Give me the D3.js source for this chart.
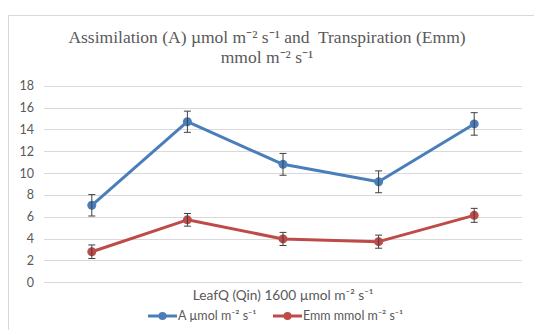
<!DOCTYPE html>
<html>
<head>
<meta charset="utf-8">
<script src="https://cdn.jsdelivr.net/npm/d3@7"></script>
<style>
  body { margin: 0; background: #fff; }
  svg { display: block; }
</style>
</head>
<body>
<svg id="chart" width="534" height="330"></svg>
<script>
// chart data
var categories = ["1", "2", "3", "4", "5"];
var assimilation = [7.05, 14.7, 10.8, 9.2, 14.5];
var assimilationErr = [0.98, 0.97, 1.0, 1.0, 1.03];
var transpiration = [2.8, 5.72, 3.97, 3.72, 6.13];
var transpirationErr = [0.62, 0.58, 0.6, 0.6, 0.64];
var yTicks = [0, 2, 4, 6, 8, 10, 12, 14, 16, 18];

var series = [
  { name: "A \u00b5mol m\u207b\u00b2 s\u207b\u00b9", values: assimilation, err: assimilationErr, color: "#4a7ebb" },
  { name: "Emm mmol m\u207b\u00b2 s\u207b\u00b9", values: transpiration, err: transpirationErr, color: "#be4b48" }
];

var svg = d3.select("#chart");
var textColor = "#595959";

// outer frame (runs off the right/bottom edge like the source)
svg.append("rect")
  .attr("x", 8.5).attr("y", 15.5)
  .attr("width", 540).attr("height", 330)
  .attr("fill", "none").attr("stroke", "#d9d9d9");

// title
var title = svg.append("text")
  .attr("text-anchor", "middle")
  .style("font-family", "'Liberation Serif', serif")
  .style("font-size", "17.5px")
  .style("white-space", "pre")
  .attr("fill", textColor);
title.append("tspan").attr("x", 267).attr("y", 43)
  .text("Assimilation (A) \u00b5mol m\u207b\u00b2 s\u207b\u00b9 and  Transpiration (Emm)");
title.append("tspan").attr("x", 267).attr("y", 63)
  .text("mmol m\u207b\u00b2 s\u207b\u00b9");

var x = d3.scaleBand().domain(categories).range([44, 522]);
var y = d3.scaleLinear().domain([0, 18]).range([282.3, 85.7]);

// gridlines
svg.append("g").selectAll("line")
  .data(yTicks)
  .join("line")
  .attr("x1", 44).attr("x2", 522)
  .attr("y1", function (d) { return Math.round(y(d)) + 0.5; })
  .attr("y2", function (d) { return Math.round(y(d)) + 0.5; })
  .attr("stroke", "#d9d9d9").attr("stroke-width", 1);

// y axis labels
var yAxis = svg.append("g")
  .attr("transform", "translate(44,0)")
  .call(d3.axisLeft(y).tickValues(yTicks).tickSize(0).tickPadding(10));
yAxis.select(".domain").remove();
yAxis.selectAll("text")
  .style("font-family", "Lato, 'Open Sans', sans-serif")
  .style("font-size", "12.5px")
  .attr("fill", textColor);

var cx = function (i) { return x(categories[i]) + x.bandwidth() / 2; };

var line = d3.line()
  .x(function (d, i) { return cx(i); })
  .y(function (d) { return y(d); });

series.forEach(function (s) {
  var g = svg.append("g");

  g.append("path")
    .datum(s.values)
    .attr("d", line)
    .attr("fill", "none")
    .attr("stroke", s.color)
    .attr("stroke-width", 3)
    .attr("stroke-linejoin", "round");

  g.selectAll("circle")
    .data(s.values)
    .join("circle")
    .attr("cx", function (d, i) { return cx(i); })
    .attr("cy", function (d) { return y(d); })
    .attr("r", 4.5)
    .attr("fill", s.color);

  // error bars
  var eb = g.selectAll(".err")
    .data(s.values)
    .join("g")
    .attr("class", "err")
    .attr("stroke", "#404040")
    .attr("stroke-width", 1);
  eb.append("line")
    .attr("x1", function (d, i) { return cx(i); })
    .attr("x2", function (d, i) { return cx(i); })
    .attr("y1", function (d, i) { return y(d + s.err[i]); })
    .attr("y2", function (d, i) { return y(d - s.err[i]); });
  eb.append("line")
    .attr("x1", function (d, i) { return cx(i) - 3.5; })
    .attr("x2", function (d, i) { return cx(i) + 3.5; })
    .attr("y1", function (d, i) { return y(d + s.err[i]); })
    .attr("y2", function (d, i) { return y(d + s.err[i]); });
  eb.append("line")
    .attr("x1", function (d, i) { return cx(i) - 3.5; })
    .attr("x2", function (d, i) { return cx(i) + 3.5; })
    .attr("y1", function (d, i) { return y(d - s.err[i]); })
    .attr("y2", function (d, i) { return y(d - s.err[i]); });
});

// x axis title
svg.append("text")
  .attr("x", 283).attr("y", 300)
  .attr("text-anchor", "middle")
  .style("font-family", "Lato, 'Open Sans', sans-serif")
  .style("font-size", "13.7px")
  .attr("fill", textColor)
  .text("LeafQ (Qin) 1600 \u00b5mol m\u207b\u00b2 s\u207b\u00b9");

// legend
var legendX = [148, 273];
var legend = svg.append("g").selectAll("g")
  .data(series)
  .join("g")
  .attr("transform", function (d, i) { return "translate(" + legendX[i] + ",316)"; });
legend.append("line")
  .attr("x1", 0).attr("x2", 29)
  .attr("stroke", function (d) { return d.color; })
  .attr("stroke-width", 3);
legend.append("circle")
  .attr("cx", 14.5).attr("r", 4)
  .attr("fill", function (d) { return d.color; });
legend.append("text")
  .attr("x", 30).attr("dy", "0.35em")
  .style("font-family", "Lato, 'Open Sans', sans-serif")
  .style("font-size", "12.5px")
  .attr("fill", textColor)
  .text(function (d) { return d.name; });
</script>
</body>
</html>
